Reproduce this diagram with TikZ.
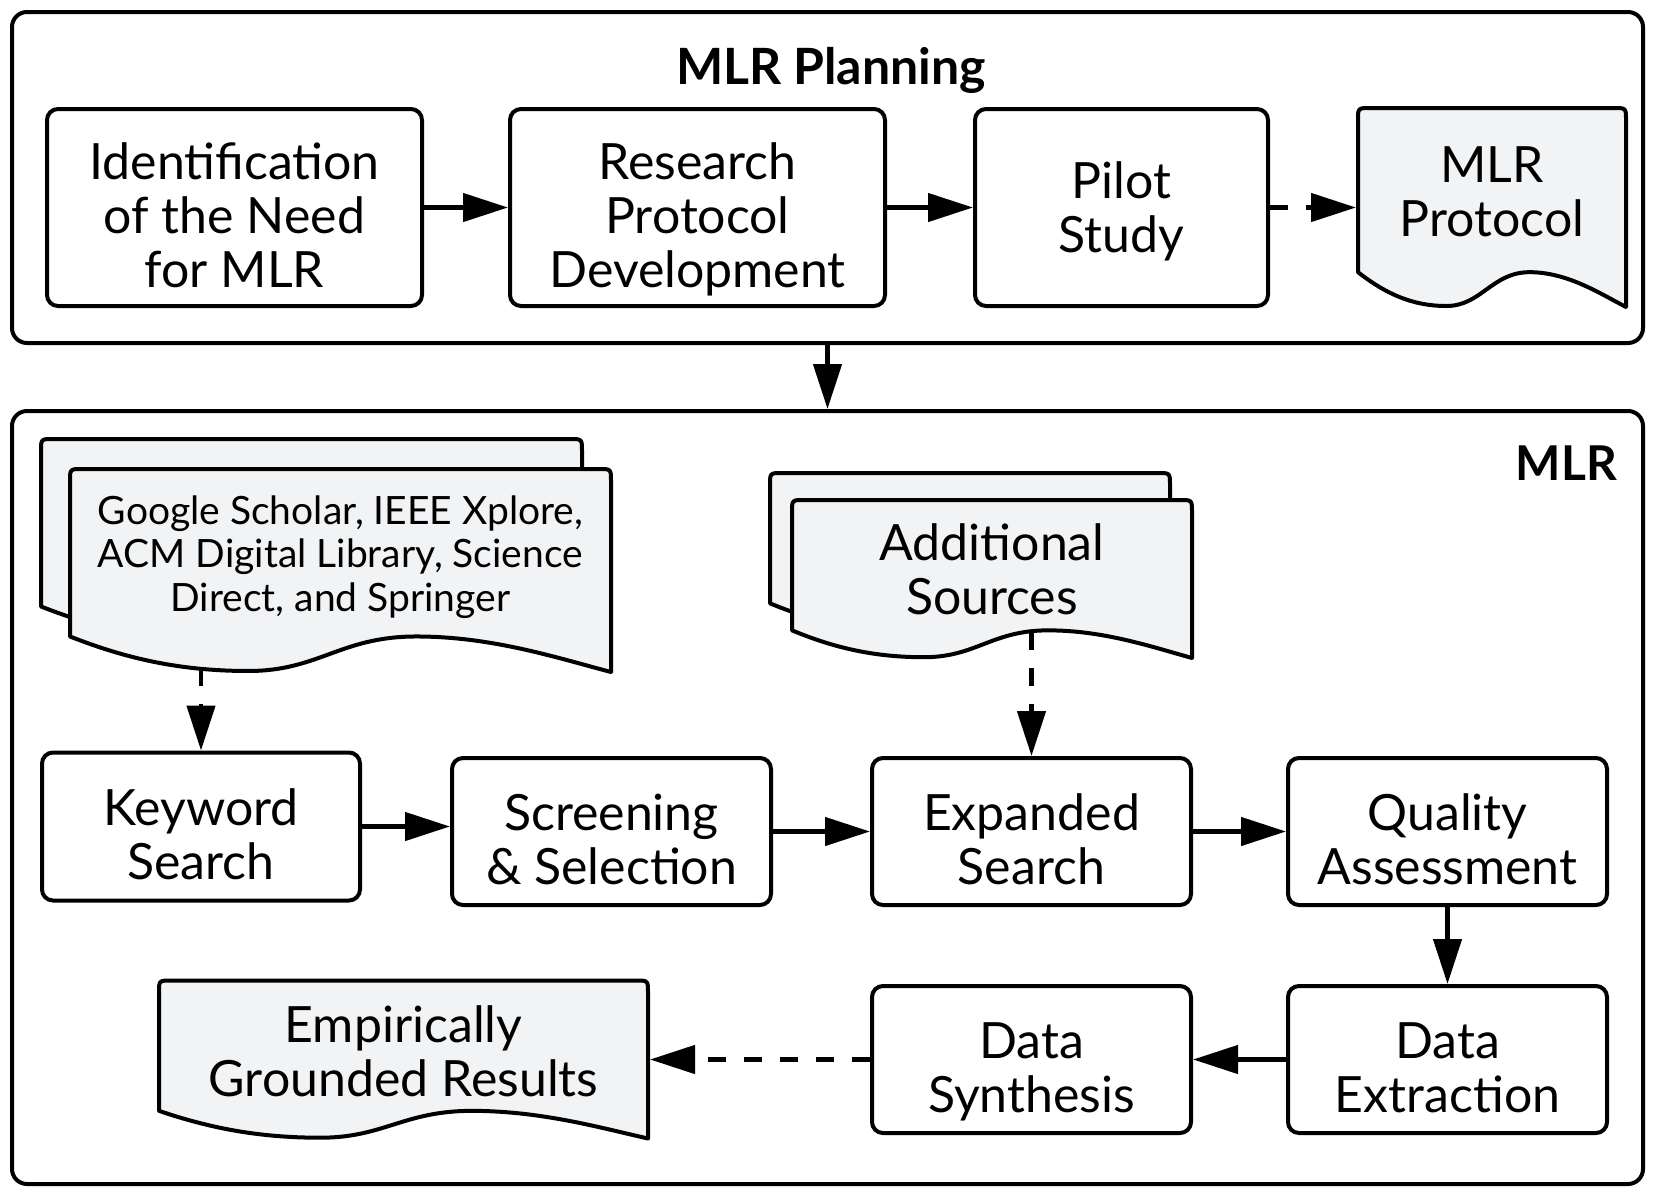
\documentclass[tikz,border=0pt]{standalone}
\usepackage{fontspec}
\setmainfont{Lato}
\usetikzlibrary{arrows.meta,calc}
\definecolor{docfill}{RGB}{242,243,245}
\tikzset{every picture/.style={line width=4pt}}
\tikzset{
  stage/.style={draw, line width=4pt, rounded corners=15pt, inner sep=0pt},
  stepbox/.style={draw, line width=4pt, rounded corners=11pt, align=center, inner sep=0pt,
    font=\fontsize{50}{54}\selectfont, text depth=0pt},
  docframe/.style={inner sep=0pt},
  doctext/.style={align=center, inner sep=0pt, font=\fontsize{50}{54}\selectfont, text depth=0pt},
  srctext/.style={align=center, inner sep=0pt, font=\fontsize{39}{43.5}\selectfont, text depth=0pt},
  headtext/.style={inner sep=0pt, font=\fontsize{50}{60}\selectfont\bfseries},
  docline/.style={draw, line width=4pt, fill=docfill, line join=round},
  flow/.style={line width=4.5pt, -{Triangle[length=45pt,width=28pt]}},
  dflow/.style={flow, dash pattern=on 18pt off 18pt},
}
% taller first line, so the text sits a little low in its box
\newcommand{\boxstrut}{\rule{0pt}{51pt}}
% document outline: left, top, right, bottom (bottom = lowest point, right corner)
\newcommand{\docshape}[4]{%
  \path[docline] ({#1},{#2+0.825*(#4-#2)})
    -- ({#1},{#2+12}) .. controls ({#1},{#2}) .. ({#1+12},{#2})
    -- ({#3-12},{#2}) .. controls ({#3},{#2}) .. ({#3},{#2+12})
    -- ({#3},{#4})
    .. controls ({#1+0.9*(#3-#1)},{#2+0.93*(#4-#2)}) and ({#1+0.78*(#3-#1)},{#2+0.825*(#4-#2)}) .. ({#1+0.64*(#3-#1)},{#2+0.825*(#4-#2)})
    .. controls ({#1+0.5*(#3-#1)},{#2+0.825*(#4-#2)}) and ({#1+0.46*(#3-#1)},{#2+0.995*(#4-#2)}) .. ({#1+0.33*(#3-#1)},{#2+0.995*(#4-#2)})
    .. controls ({#1+0.2*(#3-#1)},{#2+0.995*(#4-#2)}) and ({#1+0.1*(#3-#1)},{#2+0.93*(#4-#2)}) .. ({#1},{#2+0.825*(#4-#2)})
    -- cycle;}

\begin{document}
\begin{tikzpicture}[x=1pt,y=1pt,yscale=-1]
\useasboundingbox (0,0) rectangle (1658,1192);

% stage frames
\node[stage, minimum width=1631pt, minimum height=331pt] (planning) at (827.5,177.5) {};
\node[stage, minimum width=1631pt, minimum height=773pt] (mlr) at (827.5,797.5) {};
\node[headtext, anchor=base] (plantitle) at (831,84.7) {MLR Planning};
\node[headtext, anchor=base east, font=\fontsize{48}{58}\selectfont\bfseries] (mlrtitle) at (1619,480.7) {MLR};

% planning steps
\node[stepbox, minimum width=375pt, minimum height=197pt] (ident) at (234.5,207.5) {\boxstrut Identification\\of the Need\\for MLR};
\node[stepbox, minimum width=375pt, minimum height=197pt] (protodev) at (697.5,207.5) {\boxstrut Research\\Protocol\\Development};
\node[stepbox, minimum width=293pt, minimum height=197pt] (pilot) at (1121.5,207.5) {Pilot\\Study};

% MLR protocol document
\docshape{1358}{108}{1626}{307}
\node[docframe, minimum width=268pt, minimum height=199pt] (protocol) at (1492,207.5) {};
\node[doctext] (protocol-text) at ($(protocol.north)!0.382!(protocol.south)$) {\boxstrut MLR\\Protocol};

% source documents
\docshape{41}{439}{582}{642}
\docshape{70}{469}{611}{672}
\node[docframe, minimum width=541pt, minimum height=203pt] (dbs) at (340.5,570.5) {};
\node[srctext] (dbs-text) at ($(dbs.north)!0.417!(dbs.south)$) {Google Scholar, IEEE Xplore,\\ACM Digital Library, Science\\Direct, and Springer};
\coordinate (dbs-out) at (201,668);

\docshape{770}{473}{1170}{631}
\docshape{792}{500}{1192}{658}
\node[docframe, minimum width=400pt, minimum height=158pt] (addsrc) at (992,579) {};
\node[doctext] (addsrc-text) at ($(addsrc.north)!0.398!(addsrc.south)$) {\boxstrut Additional\\Sources};
\coordinate (addsrc-out) at (1031.5,632);

% MLR steps
\node[stepbox, minimum width=318pt, minimum height=148pt] (keyword) at (201,826.5) {\boxstrut Keyword\\Search};
\node[stepbox, minimum width=319pt, minimum height=147pt] (screen) at (611.5,831.5) {\boxstrut Screening\\\& Selection};
\node[stepbox, minimum width=319pt, minimum height=147pt] (expand) at (1031.5,831.5) {\boxstrut Expanded\\Search};
\node[stepbox, minimum width=319pt, minimum height=147pt] (quality) at (1447.5,831.5) {\boxstrut Quality\\Assessment};
\node[stepbox, minimum width=319pt, minimum height=147pt] (extract) at (1447.5,1059.5) {\boxstrut Data\\Extraction};
\node[stepbox, minimum width=319pt, minimum height=147pt] (synth) at (1031.5,1059.5) {\boxstrut Data\\Synthesis};

% results document
\docshape{159}{980.5}{648}{1138.5}
\node[docframe, minimum width=489pt, minimum height=158pt] (results) at (403.5,1059.5) {};
\node[doctext] (results-text) at ($(results.north)!0.406!(results.south)$) {\boxstrut Empirically\\Grounded Results};

% connectors
\draw[flow] (ident) -- (protodev);
\draw[flow] (protodev) -- (pilot);
\draw[dflow] (pilot) -- (protocol);
\draw[flow] (planning) -- (mlr);
\draw[dflow] (dbs-out) -- (keyword);
\draw[dflow] (addsrc-out) -- (expand);
\draw[flow] (keyword.east) -- (keyword.east -| screen.west);
\draw[flow] (screen) -- (expand);
\draw[flow] (expand) -- (quality);
\draw[flow] (quality) -- (extract);
\draw[flow] (extract) -- (synth);
\draw[dflow] (synth) -- (results);

\end{tikzpicture}
\end{document}
